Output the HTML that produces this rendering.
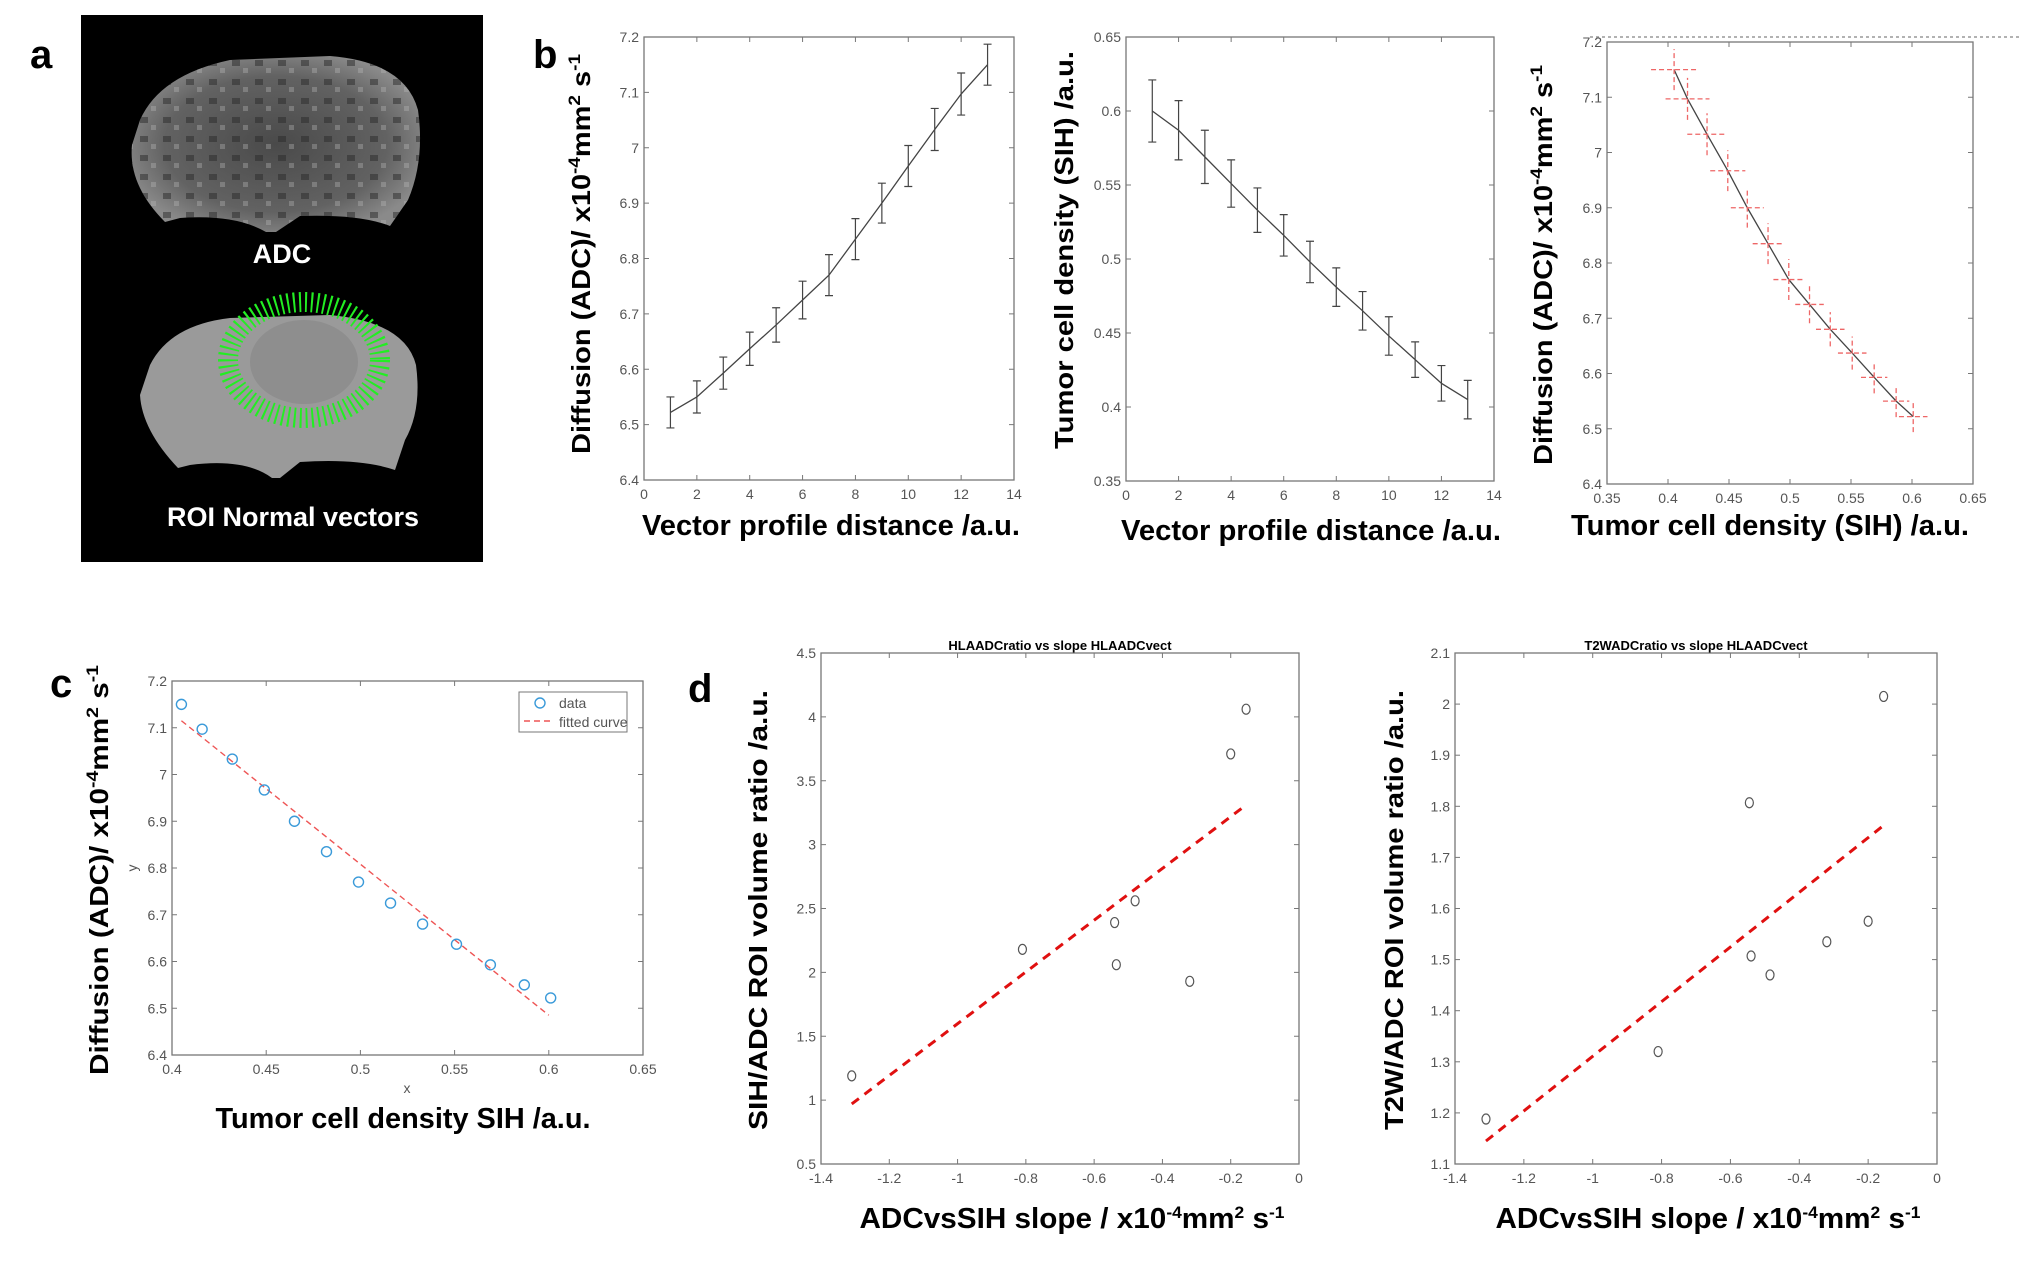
<!DOCTYPE html>
<html><head><meta charset="utf-8">
<style>
html,body{margin:0;padding:0;background:#fff;}
svg{display:block;}
.tk{font-family:"Liberation Sans Narrow","Liberation Sans",sans-serif;font-size:14px;fill:#555;}
.lab{font-family:"Liberation Sans",sans-serif;font-weight:bold;fill:#000;}
.nar{font-family:"Liberation Sans Narrow","Liberation Sans",sans-serif;font-weight:bold;fill:#000;}
</style></head>
<body>
<svg id="fig" width="2034" height="1285" viewBox="0 0 2034 1285" xmlns="http://www.w3.org/2000/svg">
<defs>
<radialGradient id="g1" cx="50%" cy="50%" r="55%"><stop offset="0" stop-color="#4a4a4a"/><stop offset="0.7" stop-color="#626262"/><stop offset="1" stop-color="#8a8a8a"/></radialGradient>
<pattern id="tex" width="23" height="19" patternUnits="userSpaceOnUse"><rect x="2" y="3" width="8" height="6" fill="#2a2a2a" opacity="0.5"/><rect x="13" y="11" width="5" height="5" fill="#bbb" opacity="0.35"/></pattern>
</defs>
<g>
<text class="lab" x="30" y="68" font-size="40">a</text>
<rect x="81" y="15" width="402" height="547" fill="#000"/>
<path d="M140 120 Q160 75 230 60 L330 56 Q405 62 418 110 Q425 160 408 200 L390 226 Q360 214 300 216 L276 232 L266 232 Q235 214 180 218 L165 222 Q128 185 132 145 Z" fill="url(#g1)"/>
<path d="M140 120 Q160 75 230 60 L330 56 Q405 62 418 110 Q425 160 408 200 L390 226 Q360 214 300 216 L276 232 L266 232 Q235 214 180 218 L165 222 Q128 185 132 145 Z" fill="url(#tex)"/>
<text class="lab" x="282" y="263" font-size="27" style="fill:#fff" text-anchor="middle">ADC</text>
<path d="M150 365 Q170 325 230 318 L330 315 Q405 322 416 365 Q422 410 405 440 L395 470 Q360 458 300 462 L280 478 L272 478 Q245 458 190 465 L178 468 Q142 430 140 395 Z" fill="#9a9a9a"/>
<ellipse cx="304" cy="360" rx="76" ry="58" fill="none" stroke="#22ee22" stroke-width="20" stroke-dasharray="2 4"/>
<ellipse cx="304" cy="362" rx="54" ry="42" fill="#8e8e8e"/>
<text class="lab" x="293" y="526" font-size="27" style="fill:#fff" text-anchor="middle">ROI Normal vectors</text>
</g>
<text class="lab" x="533" y="68" font-size="40">b</text>
<text class="lab" x="50" y="697" font-size="40">c</text>
<text class="lab" x="688" y="702" font-size="40">d</text>
<line x1="1590" y1="37" x2="2020" y2="37" stroke="#999" stroke-width="1.5" stroke-dasharray="3 3"/>
<g id="plots"></g>
</svg>
<script>
const profileDist = [1,2,3,4,5,6,7,8,9,10,11,12,13];
const adcMean = [6.522,6.55,6.593,6.637,6.68,6.725,6.77,6.835,6.9,6.967,7.033,7.097,7.15];
const adcErr = [0.028,0.029,0.029,0.03,0.031,0.034,0.037,0.037,0.036,0.037,0.038,0.038,0.037];
const sihMean = [0.600,0.587,0.569,0.551,0.533,0.516,0.498,0.481,0.465,0.448,0.432,0.416,0.405];
const sihErr = [0.021,0.020,0.018,0.016,0.015,0.014,0.014,0.013,0.013,0.013,0.012,0.012,0.013];
const sihX = [0.405,0.416,0.432,0.449,0.465,0.482,0.499,0.516,0.533,0.551,0.569,0.587,0.601];
const adcY = [7.15,7.097,7.033,6.967,6.9,6.835,6.77,6.725,6.68,6.637,6.593,6.55,6.522];
const fitC = [[0.405,7.115],[0.600,6.485]];
const slopeX = [-1.31,-0.81,-0.54,-0.535,-0.48,-0.32,-0.2,-0.155];
const sihRatio = [1.19,2.18,2.39,2.06,2.56,1.93,3.71,4.06];
const fitD1 = [[-1.31,0.97],[-0.16,3.3]];
const slopeX2 = [-1.31,-0.81,-0.545,-0.54,-0.485,-0.32,-0.2,-0.155];
const t2wRatio = [1.188,1.32,1.807,1.507,1.47,1.535,1.575,2.015];
const fitD2 = [[-1.31,1.145],[-0.16,1.76]];
const ticks14 = [0,2,4,6,8,10,12,14];
const ticksADC = [6.4,6.5,6.6,6.7,6.8,6.9,7,7.1,7.2];
const ticksSIH = [0.35,0.4,0.45,0.5,0.55,0.6,0.65];
const ticksC = [0.4,0.45,0.5,0.55,0.6,0.65];
const ticksSlope = [-1.4,-1.2,-1,-0.8,-0.6,-0.4,-0.2,0];
const ticksD1 = [0.5,1,1.5,2,2.5,3,3.5,4,4.5];
const ticksD2 = [1.1,1.2,1.3,1.4,1.5,1.6,1.7,1.8,1.9,2,2.1];

const NS='http://www.w3.org/2000/svg';
const root=document.getElementById('plots');
function mk(tag,attrs,parent){const e=document.createElementNS(NS,tag);for(const k in attrs)e.setAttribute(k,attrs[k]);(parent||root).appendChild(e);return e;}
function fmt(v){return String(Math.round(v*100)/100);}

function axes(name,L,R,T,B,xmin,xmax,ymin,ymax,xt,yt){
  const g=mk('g',{});
  
  
  const sx=v=>L+(v-xmin)/(xmax-xmin)*(R-L);
  const sy=v=>B-(v-ymin)/(ymax-ymin)*(B-T);
  const box=mk('rect',{x:L,y:T,width:R-L,height:B-T,fill:'none',stroke:'#777','stroke-width':1.3},g);
  
  
  xt.forEach(v=>{
    const x=sx(v);
    mk('line',{x1:x,x2:x,y1:B,y2:B-5,stroke:'#777'},g);
    mk('line',{x1:x,x2:x,y1:T,y2:T+5,stroke:'#777'},g);
    const t=mk('text',{x:x,y:B+19,'text-anchor':'middle',class:'tk'},g);
    t.textContent=fmt(v);
    
    
  });
  yt.forEach(v=>{
    const y=sy(v);
    mk('line',{x1:L,x2:L+5,y1:y,y2:y,stroke:'#777'},g);
    mk('line',{x1:R,x2:R-5,y1:y,y2:y,stroke:'#777'},g);
    const t=mk('text',{x:L-5,y:y+5,'text-anchor':'end',class:'tk'},g);
    t.textContent=fmt(v);
    
    
  });
  return {g,sx,sy};
}
function vlabel(g,txt,x,yc,len,size,name){
  const t=mk('text',{x:0,y:0,class:'lab','font-size':size,'text-anchor':'middle',transform:`translate(${x},${yc}) rotate(-90)`,textLength:len,lengthAdjust:'spacingAndGlyphs'},g);
  t.innerHTML=txt;
  
  
}
function hlabel(g,txt,xc,y,len,size,name){
  const t=mk('text',{x:xc,y:y,class:'nar','font-size':size,'text-anchor':'middle',textLength:len,lengthAdjust:'spacingAndGlyphs'},g);
  t.innerHTML=txt;
  
  
}
const adcLab='Diffusion (ADC)/ x10<tspan dy="-10" font-size="17">-4</tspan><tspan dy="10">mm</tspan><tspan dy="-10" font-size="17">2</tspan><tspan dy="10"> s</tspan><tspan dy="-10" font-size="17">-1</tspan>';
const slopeLab='ADCvsSIH slope / x10<tspan dy="-10" font-size="17">-4</tspan><tspan dy="10">mm</tspan><tspan dy="-10" font-size="17">2</tspan><tspan dy="10"> s</tspan><tspan dy="-10" font-size="17">-1</tspan>';

function errLine(g,xs,ys,es,a,name){
  let d='';
  xs.forEach((x,i)=>{d+=(i?'L':'M')+a.sx(x)+' '+a.sy(ys[i]);});
  const p=mk('path',{d:d,fill:'none',stroke:'#444','stroke-width':1.3},g);
  
  
  xs.forEach((x,i)=>{
    const X=a.sx(x),y1=a.sy(ys[i]-es[i]),y2=a.sy(ys[i]+es[i]);
    const e=mk('path',{d:`M${X} ${y1}L${X} ${y2}M${X-4} ${y1}L${X+4} ${y1}M${X-4} ${y2}L${X+4} ${y2}`,stroke:'#444','stroke-width':1.2,fill:'none'},g);
    
    
  });
}

{const a=axes('chart-adc-profile',644,1014,37,480,0,14,6.4,7.2,ticks14,ticksADC);
 errLine(a.g,profileDist,adcMean,adcErr,a,'adc-profile');
 vlabel(a.g,adcLab,590,254,400,26,'y-axis-title');
 hlabel(a.g,'Vector profile distance /a.u.',831,535,378,29,'x-axis-title');}
{const a=axes('chart-sih-profile',1126,1494,37,481,0,14,0.35,0.65,ticks14,ticksSIH);
 errLine(a.g,profileDist,sihMean,sihErr,a,'sih-profile');
 vlabel(a.g,'Tumor cell density (SIH) /a.u.',1073,250,398,26,'y-axis-title');
 hlabel(a.g,'Vector profile distance /a.u.',1311,540,380,29,'x-axis-title');}
{const a=axes('chart-adc-vs-sih',1607,1973,42,484,0.35,0.65,6.4,7.2,ticksSIH,ticksADC);
 let d='';sihX.forEach((x,i)=>{d+=(i?'L':'M')+a.sx(x)+' '+a.sy(adcY[i]);});
 const p=mk('path',{d:d,fill:'none',stroke:'#444','stroke-width':1.3},a.g);
 
 
 sihX.forEach((x,i)=>{
   const X=a.sx(x),Y=a.sy(adcY[i]);
   const eb=mk('path',{d:`M${a.sx(x-sihErr[i]*0.9)} ${Y}L${a.sx(x+sihErr[i]*0.9)} ${Y}M${X} ${a.sy(adcY[i]-adcErr[12-i])}L${X} ${a.sy(adcY[i]+adcErr[12-i])}`,stroke:'#ee6666','stroke-width':1.3,'stroke-dasharray':'5 3',fill:'none'},a.g);
   
   
 });
 vlabel(a.g,adcLab,1552,265,400,26,'y-axis-title');
 hlabel(a.g,'Tumor cell density (SIH) /a.u.',1770,535,398,29,'x-axis-title');}
{const a=axes('chart-fit',172,643,681,1055,0.4,0.65,6.4,7.2,ticksC,ticksADC);
 const f=mk('line',{x1:a.sx(fitC[0][0]),y1:a.sy(fitC[0][1]),x2:a.sx(fitC[1][0]),y2:a.sy(fitC[1][1]),stroke:'#ee5555','stroke-width':1.4,'stroke-dasharray':'6 4'},a.g);
 
 
 sihX.forEach((x,i)=>{
   const c=mk('circle',{cx:a.sx(x),cy:a.sy(adcY[i]),r:5,fill:'none',stroke:'#3a9ad9','stroke-width':1.4},a.g);
   
   
 });
 const lg=mk('g',{},a.g);
 
 
 mk('rect',{x:519,y:692,width:108,height:40,fill:'#fff',stroke:'#777'},lg);
 mk('circle',{cx:540,cy:703,r:5,fill:'none',stroke:'#3a9ad9','stroke-width':1.4},lg);
 mk('line',{x1:524,x2:552,y1:721,y2:721,stroke:'#ee5555','stroke-width':1.4,'stroke-dasharray':'6 4'},lg);
 const t1=mk('text',{x:559,y:708,class:'tk','font-size':13},lg);t1.textContent='data';
 const t2=mk('text',{x:559,y:727,class:'tk','font-size':13},lg);t2.textContent='fitted curve';
 const ys=mk('text',{x:137,y:868,class:'tk',transform:'rotate(-90 137 868)','text-anchor':'middle'},a.g);ys.textContent='y';
 const xs=mk('text',{x:407,y:1093,class:'tk','text-anchor':'middle'},a.g);xs.textContent='x';
 vlabel(a.g,adcLab,108,870,410,26,'y-axis-title');
 hlabel(a.g,'Tumor cell density SIH /a.u.',403,1128,375,29,'x-axis-title');}
function scatter(name,L,R,yt,ymin,ymax,xs,ys,fit,title,ylab,ylabX){
 const a=axes(name,L,R,653,1164,-1.4,0,ymin,ymax,ticksSlope,yt);
 const f=mk('line',{x1:a.sx(fit[0][0]),y1:a.sy(fit[0][1]),x2:a.sx(fit[1][0]),y2:a.sy(fit[1][1]),stroke:'#e01010','stroke-width':3,'stroke-dasharray':'9 7'},a.g);
 
 
 xs.forEach((x,i)=>{
   const c=mk('ellipse',{cx:a.sx(x),cy:a.sy(ys[i]),rx:4,ry:5,fill:'none',stroke:'#555','stroke-width':1.2},a.g);
   
   
 });
 const t=mk('text',{x:(L+R)/2,y:650,'text-anchor':'middle',class:'nar','font-size':13},a.g);
 t.textContent=title;
 
 
 vlabel(a.g,ylab,ylabX,910,440,26,'y-axis-title');
 hlabel(a.g,slopeLab,(L+R)/2+12,1228,425,29,'x-axis-title');
}
scatter('chart-sih-adc-ratio',821,1299,ticksD1,0.5,4.5,slopeX,sihRatio,fitD1,'HLAADCratio vs slope HLAADCvect','SIH/ADC ROI volume ratio /a.u.',767);
scatter('chart-t2w-adc-ratio',1455,1937,ticksD2,1.1,2.1,slopeX2,t2wRatio,fitD2,'T2WADCratio vs slope HLAADCvect','T2W/ADC ROI volume ratio /a.u.',1403);
</script>
</body></html>
